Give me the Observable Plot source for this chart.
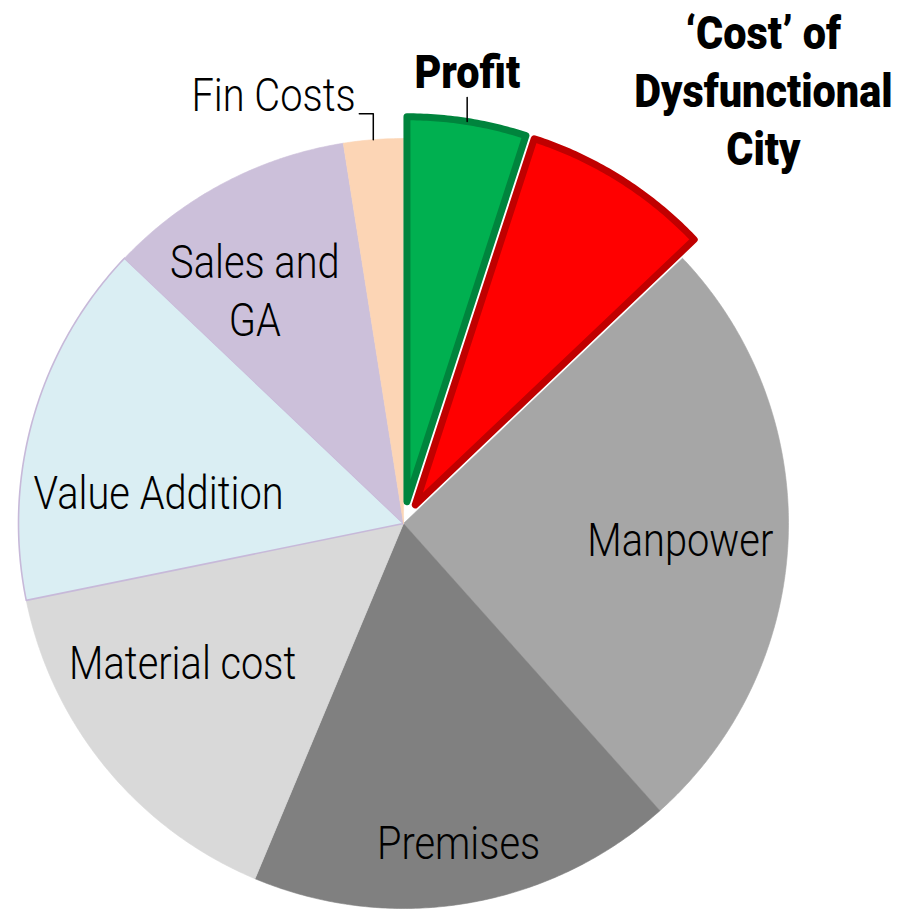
<!DOCTYPE html>
<html>
<head>
<meta charset="utf-8">
<script src="https://cdn.jsdelivr.net/npm/d3@7"></script>
<script src="https://cdn.jsdelivr.net/npm/@observablehq/plot@0.6"></script>
<style>
  html, body { margin: 0; padding: 0; background: #ffffff; }
  #chart svg { display: block; }
</style>
</head>
<body>
<div id="chart"></div>
<script>
// ---- data (shares of the cost pie, %) ----
const categories = ["Profit", "‘Cost’ of\nDysfunctional\nCity", "Manpower", "Premises", "Material cost", "Value Addition", "Sales and\nGA", "Fin Costs"];
const values = [5.0, 7.9, 25.5, 17.9, 15.5, 15.3, 10.4, 2.5];
const explodedSlices = ["Profit", "‘Cost’ of\nDysfunctional\nCity"];
const boldLabels = ["Profit", "‘Cost’ of\nDysfunctional\nCity"];
const calloutLabels = ["Profit", "Fin Costs"];

// ---- styles ----
const fillColors = ["#00B050", "#FF0000", "#A6A6A6", "#808080", "#D9D9D9", "#DAEEF3", "#CCC0DA", "#FCD5B5"];
const strokeColors = ["#00843D", "#C00000", "#A6A6A6", "#808080", "#D9D9D9", "#C7B9D9", "#CCC0DA", "#FCD5B5"];
const strokeWidths = [7, 7, 0.6, 0.6, 0.6, 1.6, 0.6, 0.6];
// label placement: angle nudge (degrees, from slice mid-angle) and radius (fraction of pie radius)
const labelNudge = [-1.0, 7.4, 0.6, -0.3, 7.6, -8.3, -4.6, -1.9];
const labelRadius = [1.19, 1.466, 0.72, 0.836, 0.675, 0.642, 0.722, 1.116];

// ---- layout ----
const W = 904, H = 911;
const CX = 403, CY = 523, R = 385;   // pie center and radius in pixels
const explode = 22 / R;              // exploded offset in data units
const FONT = "Roboto, 'Liberation Sans', sans-serif";
const REG_SCALE = 0.865, BOLD_SCALE = 0.9;  // horizontal condensing of label glyphs

const total = d3.sum(values);
const deg = Math.PI / 180;
const slices = [];
let cum = 0;
values.forEach((v, i) => {
  const a0 = cum / total * 2 * Math.PI;
  cum += v;
  const a1 = cum / total * 2 * Math.PI;
  const mid = (a0 + a1) / 2;
  const off = explodedSlices.includes(categories[i]) ? explode : 0;
  const cx = off * Math.sin(mid), cy = off * Math.cos(mid);
  const n = Math.max(2, Math.ceil((a1 - a0) / (0.5 * deg)));
  const pts = [{x: cx, y: cy}];
  for (let k = 0; k <= n; k++) {
    const a = a0 + (a1 - a0) * k / n;
    pts.push({x: cx + Math.sin(a), y: cy + Math.cos(a)});
  }
  slices.push({i, name: categories[i], a0, a1, mid, cx, cy, off, pts});
});

const sliceMarks = [];
const order = slices.filter(s => !s.off).concat(slices.filter(s => s.off));
for (const s of order) {
  sliceMarks.push(Plot.line(s.pts, {
    x: "x", y: "y", curve: "linear-closed",
    fill: fillColors[s.i], stroke: strokeColors[s.i], strokeWidth: strokeWidths[s.i],
    strokeLinejoin: "round"
  }));
}

// labels
const labels = slices.map(s => {
  const a = s.mid + labelNudge[s.i] * deg;
  const r = labelRadius[s.i];
  return {
    text: s.name,
    x: r * Math.sin(a), y: r * Math.cos(a),
    bold: boldLabels.includes(s.name),
    anchor: s.name === "Fin Costs" ? "end" : "middle"
  };
});

// leader lines for callouts
const leaders = [];
for (const s of slices.filter(s => calloutLabels.includes(s.name))) {
  const p0 = {x: s.cx + Math.sin(s.mid), y: s.cy + Math.cos(s.mid)};
  if (s.name === "Profit") {
    leaders.push([p0, {x: p0.x, y: p0.y + 24 / R}]);
  } else {
    const p1 = {x: p0.x, y: p0.y + 26 / R};
    leaders.push([p0, p1, {x: p1.x - 14 / R, y: p1.y}]);
  }
}
const leaderMarks = leaders.map(l => Plot.line(l, {x: "x", y: "y", stroke: "#000", strokeWidth: 1.5}));

const chart = Plot.plot({
  width: W, height: H, margin: 0,
  x: {domain: [(0 - CX) / R, (W - CX) / R], axis: null},
  y: {domain: [(CY - H) / R, CY / R], axis: null},
  style: {background: "#ffffff", fontFamily: FONT, overflow: "visible"},
  marks: [
    ...sliceMarks,
    ...leaderMarks,
    Plot.text(labels.filter(d => !d.bold && d.anchor === "middle"), {
      x: "x", y: "y", text: "text", fontSize: 46, lineHeight: 1.26, fill: "#000",
      fontFamily: FONT, fontWeight: 300
    }),
    Plot.text(labels.filter(d => d.anchor === "end"), {
      x: "x", y: "y", text: "text", fontSize: 46, textAnchor: "end", fill: "#000",
      fontFamily: FONT, fontWeight: 300
    }),
    Plot.text(labels.filter(d => d.bold), {
      x: "x", y: "y", text: "text", fontSize: 46, lineHeight: 1.26, fontWeight: 900, fill: "#000",
      fontFamily: FONT
    })
  ]
});
// condense the glyphs horizontally around each label's anchor
chart.querySelectorAll("text").forEach(t => {
  const g = t.closest("g");
  const w = g && g.getAttribute("font-weight");
  const s = (w === "900" || w === "bold") ? BOLD_SCALE : REG_SCALE;
  const tr = t.getAttribute("transform") || "";
  t.setAttribute("transform", tr + ` scale(${s},1)`);
});
document.getElementById("chart").appendChild(chart);
</script>
</body>
</html>
